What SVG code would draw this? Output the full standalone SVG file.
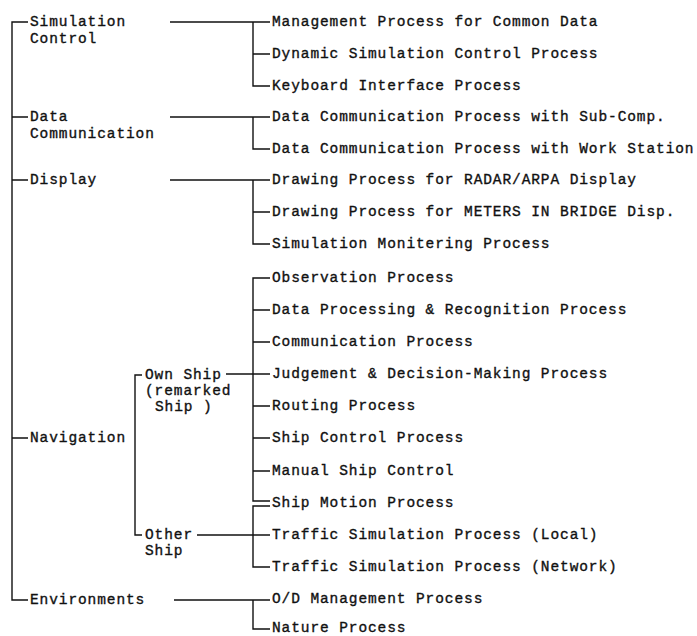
<svg xmlns="http://www.w3.org/2000/svg" width="697" height="636" viewBox="0 0 697 636">
<style>
text{font-family:"Liberation Mono","Courier New",monospace;font-size:14.5px;letter-spacing:0.9px;fill:#111;stroke:#111;stroke-width:0.35}
.c path{fill:none;stroke:#111;stroke-width:1.4}
</style>
<rect width="697" height="636" fill="#fff"/>
<g class="c" id="connectors">
<path d="M28,22H12V600H28"/>
<path d="M12,117H28M12,180H28M12,438H28"/>
<path d="M170,22H270M253,22V86H270M253,54H270"/>
<path d="M170,117H270M253,117V149H270"/>
<path d="M170,180H270M253,180V244H270M253,212H270"/>
<path d="M142,375H135V535H142"/>
<path d="M226,374H270"/>
<path d="M270,278H253V501H270M253,310H270M253,342H270M253,406H270M253,438H270M253,471H270"/>
<path d="M197,535H270"/>
<path d="M270,506H253V567H270"/>
<path d="M174,600H270M253,600V629H270"/>
</g>
<g id="n-simctl"><text x="30" y="26">Simulation</text><text x="30" y="43">Control</text></g>
<g id="n-datacomm"><text x="30" y="121">Data</text><text x="30" y="138">Communication</text></g>
<g id="n-display"><text x="30" y="184">Display</text></g>
<g id="n-navigation"><text x="30" y="442">Navigation</text></g>
<g id="n-env"><text x="30" y="604">Environments</text></g>
<g id="n-ownship"><text x="145" y="379">Own Ship</text><text x="145" y="395">(remarked</text><text x="155" y="411">Ship )</text></g>
<g id="n-othership"><text x="145" y="539">Other</text><text x="145" y="555">Ship</text></g>
<g id="l1"><text x="272" y="26">Management Process for Common Data</text></g>
<g id="l2"><text x="272" y="58">Dynamic Simulation Control Process</text></g>
<g id="l3"><text x="272" y="90">Keyboard Interface Process</text></g>
<g id="l4"><text x="272" y="121">Data Communication Process with Sub-Comp.</text></g>
<g id="l5"><text x="272" y="153">Data Communication Process with Work Station</text></g>
<g id="l6"><text x="272" y="184">Drawing Process for RADAR/ARPA Display</text></g>
<g id="l7"><text x="272" y="216">Drawing Process for METERS IN BRIDGE Disp.</text></g>
<g id="l8"><text x="272" y="248">Simulation Monitering Process</text></g>
<g id="l9"><text x="272" y="282">Observation Process</text></g>
<g id="l10"><text x="272" y="314">Data Processing &amp; Recognition Process</text></g>
<g id="l11"><text x="272" y="346">Communication Process</text></g>
<g id="l12"><text x="272" y="378">Judgement &amp; Decision-Making Process</text></g>
<g id="l13"><text x="272" y="410">Routing Process</text></g>
<g id="l14"><text x="272" y="442">Ship Control Process</text></g>
<g id="l15"><text x="272" y="475">Manual Ship Control</text></g>
<g id="l16"><text x="272" y="507">Ship Motion Process</text></g>
<g id="l17"><text x="272" y="539">Traffic Simulation Process (Local)</text></g>
<g id="l18"><text x="272" y="571">Traffic Simulation Process (Network)</text></g>
<g id="l19"><text x="272" y="603">O/D Management Process</text></g>
<g id="l20"><text x="272" y="632">Nature Process</text></g>
</svg>
